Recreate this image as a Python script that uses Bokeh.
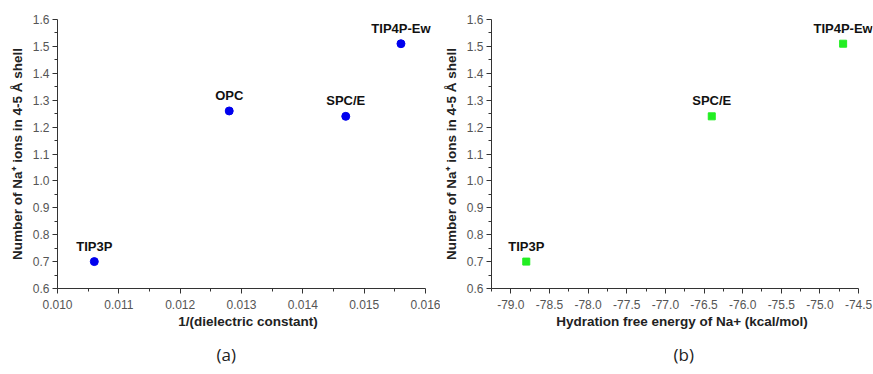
from bokeh.plotting import figure
from bokeh.layouts import row
from bokeh.models import (Range1d, Title, ColumnDataSource, FixedTicker,
                          LabelSet, CustomJSTickFormatter)
from bokeh.core.properties import value
from bokeh.embed import file_html
from bokeh.resources import INLINE

# Panel (a)
models_a = ["TIP3P", "OPC", "SPC/E", "TIP4P-Ew"]
inv_dielectric = [0.0106, 0.0128, 0.0147, 0.0156]
na_count_a = [0.70, 1.26, 1.24, 1.51]

# Panel (b)
models_b = ["TIP3P", "SPC/E", "TIP4P-Ew"]
hydration_fe = [-78.8, -76.4, -74.7]
na_count_b = [0.70, 1.24, 1.51]

y_ticks = [0.6, 0.7, 0.8, 0.9, 1.0, 1.1, 1.2, 1.3, 1.4, 1.5, 1.6]
xa_ticks = [0.010, 0.011, 0.012, 0.013, 0.014, 0.015, 0.016]
xb_ticks = [-79.0, -78.5, -78.0, -77.5, -77.0, -76.5, -76.0, -75.5, -75.0, -74.5]

FONT = "Liberation Sans"
YLABEL = "Number of Na\u207A ions in 4-5 \u00C5 shell"


def style(p, xticks, xminor, xbounds):
    for ax in (p.xaxis[0], p.yaxis[0]):
        ax.axis_line_color = "#333333"
        ax.major_tick_line_color = "#333333"
        ax.minor_tick_line_color = "#333333"
        ax.major_tick_in = 0
        ax.major_tick_out = 5
        ax.minor_tick_in = 0
        ax.minor_tick_out = 3
        ax.major_label_text_font = FONT
        ax.major_label_text_font_size = "12px"
        ax.major_label_text_color = "#555555"
        ax.axis_label_text_font = FONT
        ax.axis_label_text_font_size = "13.5px"
        ax.axis_label_text_font_style = "bold"
        ax.axis_label_text_color = "#222222"
    p.yaxis[0].ticker = FixedTicker(ticks=y_ticks,
                                    minor_ticks=[0.65 + 0.1 * i for i in range(10)])
    p.xaxis[0].ticker = FixedTicker(ticks=xticks, minor_ticks=xminor)
    p.xaxis[0].bounds = xbounds
    p.yaxis[0].major_label_standoff = 3
    p.xaxis[0].major_label_standoff = 6
    p.yaxis[0].axis_label_standoff = 5
    p.xaxis[0].axis_label_standoff = 2
    p.xgrid.visible = False
    p.ygrid.visible = False
    p.outline_line_color = None


def add_labels(p, src):
    p.add_layout(LabelSet(x="x", y="y", text="name", source=src,
                          text_align="center", text_baseline="bottom",
                          y_offset=8, text_font_size="13px",
                          text_font_style="bold", text_color="#111111",
                          text_font=value(FONT)))


# ---- panel (a)
pa = figure(width=440, height=374, output_backend="svg", toolbar_location=None,
            x_range=Range1d(0.010, 0.016212), y_range=Range1d(0.6, 1.6),
            min_border_left=57, min_border_right=2, min_border_top=19,
            min_border_bottom=85)
pa.xaxis.axis_label = "1/(dielectric constant)"
pa.yaxis.axis_label = YLABEL
style(pa, xa_ticks, [0.0105 + 0.001 * i for i in range(6)], (0.010, 0.016))
pa.xaxis[0].formatter = CustomJSTickFormatter(code="return tick.toFixed(3);")
pa.yaxis[0].formatter = CustomJSTickFormatter(code="return tick.toFixed(1);")

src_a = ColumnDataSource(dict(x=inv_dielectric, y=na_count_a, name=models_a))
pa.scatter("x", "y", source=src_a, marker="circle", size=8,
           fill_color="#0000ee", line_color="#0000ee")
add_labels(pa, src_a)
ta = Title(text="(a)", align="left", text_font_size="17px",
           text_font_style="normal", text_font="Open Sans", text_color="#222222",
           standoff=18, offset=159)
pa.add_layout(ta, "below")

# ---- panel (b)
pb = figure(width=433, height=374, output_backend="svg", toolbar_location=None,
            x_range=Range1d(-79.25, -74.32), y_range=Range1d(0.6, 1.6),
            min_border_left=49, min_border_right=1, min_border_top=19,
            min_border_bottom=85)
pb.xaxis.axis_label = "Hydration free energy of Na+ (kcal/mol)"
pb.yaxis.axis_label = YLABEL
style(pb, xb_ticks, [-79.25 + 0.5 * i for i in range(10)], (-79.25, -74.5))
pb.xaxis[0].formatter = CustomJSTickFormatter(code="return tick.toFixed(1);")
pb.yaxis[0].formatter = CustomJSTickFormatter(code="return tick.toFixed(1);")

src_b = ColumnDataSource(dict(x=hydration_fe, y=na_count_b, name=models_b))
pb.scatter("x", "y", source=src_b, marker="square", size=7,
           fill_color="#22ee22", line_color="#22ee22")
add_labels(pb, src_b)
tb = Title(text="(b)", align="left", text_font_size="17px",
           text_font_style="normal", text_font="Open Sans", text_color="#222222",
           standoff=18, offset=182)
pb.add_layout(tb, "below")

layout = row(pa, pb)
open("out.html", "w").write(file_html(layout, INLINE))
